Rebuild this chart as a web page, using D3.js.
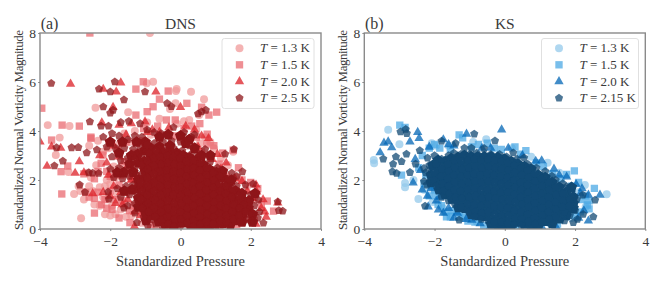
<!DOCTYPE html>
<html>
<head>
<meta charset="utf-8">
<script src="https://cdn.jsdelivr.net/npm/d3@7"></script>
<style>
  html, body { margin: 0; padding: 0; background: #fff; }
  svg { display: block; }
  text { font-family: "Liberation Serif", serif; fill: #3a3a3a; }
</style>
</head>
<body>
<div id="body"></div>
<script>
// values: [pressure, vorticity]
const dns13 = [[-3.78,4.24],[-3.16,4.2],[-3.44,3.73],[-2.42,4.95],[-1.49,4.77],[-.96,5.95],[-.78,6.01],[-.11,5.71],[-.13,5.63],[.3,5.6],[.67,5.3],[-.14,5.13],[.53,4.65],[-.87,8.0],[-2.83,.44],[-3.03,1.43],[-3.55,3.02],[-3.19,2.33],[-2.6,3.4],[-2.35,3.6],[-2.9,1.75],[-2.75,1.2],[-2.5,1.55],[-2.3,.95],[-2.2,1.3],[-2.15,.6],[-2.0,.55],[-1.95,.95],[-1.8,1.4],[-1.7,.8],[-1.55,.5],[-1.85,2.1],[-2.1,2.0],[-1.6,3.9],[-1.3,4.0],[-.6,4.5],[-.3,4.9],[.1,4.4],[.45,4.05],[.7,3.75],[.95,3.3],[1.15,2.9],[1.35,2.6],[1.5,3.15],[1.6,2.1],[1.9,1.75],[2.1,1.2],[1.7,.3],[1.2,.2],[-2.65,2.3],[-1.3,2.2],[-1.1,.25],[.55,3.5],[-.95,4.35],[-2.05,3.3],[-1.75,3.45],[-.7,.12],[.8,.1],
[-2.85,1.55],[-2.6,1.75],[-2.45,1.0],[-2.3,1.7],[-2.15,1.75],[-2.05,1.25],[-1.85,.6],[-1.6,1.05],[-1.4,.55],[-1.9,2.55],[-1.65,2.6],[-2.4,2.6],[-2.2,3.15],[-1.45,3.55],[-.85,3.85],[-.1,4.3],[.25,4.45],[.85,3.55],[-2.55,2.1],[-2.0,1.85]];
const dns15 = [[-3.37,4.24],[-2.88,4.2],[-3.67,3.63],[-2.55,3.75],[-1.06,6.01],[-1.27,5.71],[-.35,5.63],[-.6,5.3],[.18,5.13],[-.78,4.99],[-.95,4.79],[-1.27,4.65],[.6,4.97],[1.03,4.77],[.81,4.65],[.76,3.87],[.32,4.2],[-3.95,4.93],[-3.4,2.34],[-3.21,2.57],[-2.26,2.68],[-3.38,1.43],[-2.45,.65],[-1.75,.45],[-1.44,.26],[-2.55,3.7],[-2.21,3.02],[2.47,1.14],[2.65,.73],[1.5,3.22],[.75,3.47],[-2.58,8.0],[-2.7,1.5],[-2.45,1.25],[-2.15,1.2],[-2.0,1.55],[-1.95,.8],[-2.0,2.15],[-1.75,1.8],[-1.65,1.15],[-1.5,2.45],[-1.45,.75],[-1.6,2.75],[-1.3,3.1],[-1.1,3.6],[-.4,4.45],[.1,4.1],[.45,3.75],[.85,3.0],[1.1,2.65],[1.65,2.5],[2.0,1.9],[1.8,.5],[1.4,.28],[.9,.22],[-.85,.18],[.6,3.15],[-.15,3.8],[-2.75,2.25],[-2.1,2.35],[-1.8,3.2],[1.3,2.15],
[-2.6,1.3],[-2.35,1.5],[-2.25,1.0],[-2.1,.85],[-1.85,1.2],[-1.55,1.5],[-1.35,.95],[-1.7,2.2],[-1.4,2.05],[-2.45,2.05],[-2.35,2.35],[-1.55,3.55],[-1.05,4.1],[-.65,4.2],[-.15,4.45],[.55,4.3],[.95,3.4],[1.2,3.1],[1.75,2.0],[2.2,1.65],[2.3,1.0],[2.1,.35],[1.6,.18]];
const dns20 = [[-3.13,5.92],[-1.7,5.97],[-2.2,5.71],[-1.83,5.6],[-.7,5.6],[-1.92,4.97],[0,4.97],[-2.24,4.34],[-1.75,4.24],[-1.01,4.38],[-.33,4.14],[-3.67,3.36],[-3.41,3.3],[-3.8,2.57],[-2.88,2.75],[-3,2.28],[1.05,3.05],[2.17,1.52],[2.15,1.8],[2.77,1.07],[2.44,.49],[-1.31,.11],[-4,3.56],[-2.5,1.45],[-2.2,1.5],[-2.05,2.2],[-1.9,1.75],[-1.75,2.95],[-1.6,2.35],[-1.5,1.2],[-1.3,1.65],[-1.85,1.05],[-1.25,3.55],[-1.4,4.3],[-.6,3.95],[-.8,4.05],[.15,4.2],[.4,4.05],[.5,3.35],[.9,2.85],[1.3,2.7],[1.55,2.05],[1.9,1.55],[2.05,1.25],[2.3,.85],[2.0,.4],[1.5,.35],[.95,.15],[.3,.1],[-.4,.08],[-1.15,.55],[-2.3,3.0],[-2.75,2.3],[-1.05,2.7],[.8,3.7],
[-2.0,1.35],[-1.7,1.5],[-1.4,2.0],[-1.65,1.0],[-1.3,.7],[-2.1,2.7],[-1.9,3.4],[-1.55,3.85],[-.95,3.95],[.6,3.8],[1.15,2.45],[1.75,1.95],[2.35,1.2],[2.4,.7],[2.15,.2],[1.1,.12]];
const dns25 = [[-3.68,5.95],[-2.32,5.71],[-1.87,6.01],[-2.0,5.6],[-1.01,5.6],[-1.61,5.27],[-2.2,4.99],[-.38,5.13],[-.26,5.0],[-2.0,4.73],[-1.92,4.85],[-2.58,4.38],[-1.47,4.4],[-2.26,4.2],[-2.05,4.2],[.5,4.7],[.6,4.78],[.72,4.85],[-1.7,4.35],[-1.15,4.3],[-.95,4.05],[-.75,3.95],[-.55,3.9],[-.2,4.15],[.1,3.95],[.4,3.85],[.3,3.75],[-3.53,3.32],[-3.1,3.32],[-2.91,3.33],[-3.35,2.77],[-3.59,2.58],[-2.67,3.11],[-2.38,3.23],[-2.61,2.3],[-2.33,2.27],[-2.5,2.28],[-2.87,1.8],[-2.72,1.5],[-2.04,1.22],[-2.06,1.51],[-1.61,.86],[-1.3,.65],[-1.24,.26],[-.93,.12],[1.52,3.25],[1.76,2.34],[2.07,1.84],[2.22,1.18],[2.77,1.11],[2.91,.73],[2.8,.75],[2.36,.24],[1.27,3.06],[1.46,2.28],[1.6,2.15],[1.85,1.8],[2.0,1.4],[2.1,.95],[2.25,.7],[2.2,.45],[1.95,.6],[1.8,1.0],[1.65,1.35],[1.6,1.75],[1.35,2.05],
[-2.2,3.75],[-1.95,3.9],[-1.75,3.8],[-1.5,3.65],[-1.3,3.8],[-1.1,3.75],[-2.1,3.35],[-1.85,3.3],[-1.6,3.3],[-1.35,3.25],[-1.15,3.35],[-1.95,2.95],[-1.7,2.8],[-1.5,2.9],[-1.3,2.85],[-2.0,2.45],[-1.75,2.5],[-1.55,2.4],[-1.3,2.5],[-1.9,2.1],[-1.65,2.05],[-1.45,2.15],[-1.25,2.2],[-1.8,1.65],[-1.55,1.75],[-1.35,1.8],[-1.7,1.3],[-1.45,1.4],[-1.25,1.45],[-1.5,.95],[-1.3,1.05],
[-.95,3.45],[-.75,3.5],[-.5,3.55],[-.25,3.6],[0,3.55],[.25,3.4],[.5,3.1],[.7,3.25],[-.9,3.1],[-.7,3.2],[-.45,3.2],[-.2,3.3],[.05,3.2],[.3,3.05],[.85,2.75],[1.05,2.5],
[-1.1,2.95],[-1.12,2.6],[-1.1,2.25],[-1.14,1.9],[-1.1,1.55],[-1.12,1.2],[-1.08,.85],[-1.05,.5],
[-.95,2.8],[-.93,2.45],[-.95,2.1],[-.92,1.75],[-.95,1.4],[-.93,1.05],[-.9,.7],[-.85,.38],
[-.76,2.9],[-.75,2.6],[-.77,2.25],[-.74,1.9],[-.76,1.55],[-.73,1.2],[-.75,.85],[-.72,.5],[-.7,.2],
[-.58,2.95],[-.55,2.65],[-.57,2.35],[-.56,2.05],[-.58,1.75],[-.55,1.4],[-.57,1.05],[-.55,.7],[-.53,.35],[-.52,.1],
[-.38,3.0],[-.37,2.7],[-.4,2.4],[-.38,2.1],[-.36,1.8],[-.39,1.5],[-.37,1.15],[-.36,.85],[-.38,.5],[-.35,.2],
[-.2,2.95],[-.18,2.65],[-.2,2.35],[-.19,2.05],[-.17,1.7],[-.2,1.4],[-.18,1.05],[-.19,.75],[-.17,.4],[-.18,.1],
[-.02,2.9],[0,2.6],[-.01,2.3],[.01,2.0],[-.02,1.7],[0,1.35],[.02,1.05],[-.01,.7],[.01,.4],[0,.12],
[.17,2.75],[.19,2.45],[.16,2.15],[.18,1.85],[.2,1.5],[.17,1.2],[.19,.85],[.18,.55],[.2,.25],
[.37,2.8],[.36,2.5],[.38,2.2],[.35,1.9],[.37,1.6],[.39,1.25],[.36,.95],[.38,.65],[.37,.35],[.36,.1],
[.56,2.7],[.55,2.4],[.57,2.1],[.54,1.75],[.56,1.45],[.55,1.1],[.57,.8],[.54,.5],[.56,.2],
[.75,2.5],[.74,2.2],[.76,1.9],[.73,1.6],[.75,1.25],[.74,.95],[.76,.6],[.73,.3],
[.93,2.3],[.95,2.0],[.92,1.7],[.94,1.4],[.96,1.1],[.93,.8],[.95,.5],[.92,.22],
[1.12,2.15],[1.1,1.85],[1.13,1.55],[1.11,1.25],[1.14,.95],[1.1,.65],[1.12,.35],
[1.3,1.75],[1.28,1.45],[1.32,1.15],[1.29,.85],[1.31,.55],[1.3,.28],
[1.48,1.65],[1.46,1.3],[1.5,1.0],[1.47,.7],[1.5,.42],[1.68,.85],[1.66,.55],[1.85,.72],[1.9,.38]];
// second pass through the solid middle of the DNS cloud
const dnsCore = [[-1.02,3.2],[-1.03,2.75],[-1.02,2.42],[-1.03,2.08],[-1.02,1.72],[-1.03,1.38],[-1.01,1.02],[-1.0,.68],[-.98,.35],
[-.85,3.0],[-.85,2.63],[-.86,2.28],[-.84,1.92],[-.85,1.58],[-.83,1.22],[-.83,.88],[-.81,.55],
[-.67,3.05],[-.66,2.75],[-.67,2.42],[-.65,2.08],[-.67,1.72],[-.64,1.38],[-.66,1.03],[-.64,.68],[-.62,.32],
[-.47,3.1],[-.46,2.82],[-.48,2.52],[-.47,2.2],[-.47,1.9],[-.47,1.58],[-.47,1.22],[-.46,.88],[-.46,.52],[-.44,.2],
[-.29,3.15],[-.28,2.82],[-.3,2.52],[-.28,2.22],[-.27,1.92],[-.29,1.6],[-.28,1.3],[-.28,.95],[-.28,.62],[-.26,.3],
[-.11,3.1],[-.09,2.78],[-.1,2.48],[-.09,2.2],[-.09,1.88],[-.1,1.55],[-.08,1.22],[-.1,.9],[-.08,.55],[-.09,.25],
[.08,3.0],[.09,2.7],[.08,2.42],[.1,2.12],[.09,1.82],[.09,1.5],[.1,1.18],[.09,.88],[.1,.55],[.09,.25],
[.27,2.9],[.27,2.62],[.27,2.32],[.26,2.02],[.28,1.72],[.28,1.4],[.27,1.1],[.28,.78],[.28,.48],[.28,.18],
[.46,2.82],[.45,2.52],[.47,2.22],[.45,1.9],[.46,1.6],[.47,1.28],[.46,.98],[.46,.68],[.46,.38],[.46,.12],
[.65,2.62],[.64,2.32],[.66,2.02],[.64,1.72],[.65,1.4],[.65,1.1],[.66,.78],[.64,.48],[.65,.18],
[.84,2.42],[.85,2.12],[.84,1.82],[.83,1.52],[.85,1.22],[.84,.92],[.85,.62],[.82,.35],[.83,.12],
[1.02,2.3],[1.02,2.0],[1.02,1.7],[1.02,1.38],[1.05,1.08],[1.02,.78],[1.03,.5],[1.0,.2],
[1.2,2.1],[1.2,1.7],[1.22,1.4],[1.2,1.1],[1.22,.8],[1.2,.5],[1.21,.22],
[1.38,1.9],[1.38,1.58],[1.41,1.25],[1.38,.98],[1.4,.7],[1.4,.42],[1.42,.18],
[1.57,1.55],[1.56,1.18],[1.58,.95],[1.58,.6],[1.58,.35],[1.75,1.45],[1.75,1.2],[1.77,.85],[1.76,.55],[1.75,.28],
[1.95,1.15],[1.93,.85],[2.05,.6],[2.05,.28],[2.12,1.45],[1.2,2.35],[1.45,2.0],
[-1.22,3.05],[-1.4,3.0],[-1.45,2.65],[-1.2,2.7],[-1.35,2.32],[-1.2,2.0],[-1.22,1.65],[-1.2,1.25],[-1.2,.9],[-1.38,1.6],[-1.6,1.55],[-1.62,2.3],[-1.8,2.3],[-.3,3.4],[.15,3.5],[.4,3.3],[.6,3.0],[.85,3.0],[-.6,3.35],[-.85,3.3],[-1.0,3.55],[-.6,3.75],[-.35,3.85],[.0,3.8],[.25,3.65],[-1.25,3.55],[-1.65,3.55],[-1.75,3.1],[-2.0,3.55],[-.2,.05]];

const ks13 = [[-3.32,4.05],[-3.73,2.82],[-3.72,2.68],[-3.0,3.46],[-2.84,1.88],[-2.84,1.7],[-2.46,1.22],[-.53,3.66],[2.9,1.42],[2.28,1.8],[1.22,2.7],[-2.08,3.5],[-1.95,3.4],[-2.6,2.0],[-2.3,1.6],[-2.05,1.1],[-1.75,.85],[-1.55,.55],[-1.2,.45],[-.8,.3],[-.2,.12],[.55,.1],[1.3,.2],[1.9,.45],[2.3,.9],[2.1,1.5],[1.55,2.3],[.75,2.95],[.2,3.3],[-.9,3.55],[-1.6,3.4]];
const ks15 = [[-2.99,4.24],[-2.84,4.15],[-1.3,3.84],[-1.2,3.72],[-2.94,2.2],[-1.66,.5],[1.98,2.37],[1.76,2.23],[2.55,1.66],[2.35,.98],[2.4,.82],[.29,3.35],[.6,3.2],[-2.15,3.3],[-2.0,3.45],[-1.55,3.25],[-.75,3.45],[-.3,3.3],[-2.45,2.5],[-2.25,2.2],[-2.15,1.35],[-2.0,1.6],[-1.9,1.0],[-1.7,.7],[-1.5,.75],[-1.3,.5],[-1.05,.32],[-.6,.15],[-.3,.1],[.3,.08],[.95,.12],[1.5,.2],[2.0,.55],[2.2,1.2],[1.9,1.75],[1.35,2.25],[.9,2.7],[-.1,3.25],
[-2.3,1.85],[-2.1,1.75],[-1.95,1.35],[-1.8,.95],[-1.55,.5],[-1.35,.75],[-1.15,.55],[-.85,.28],[-2.35,3.0],[-1.85,3.3],[-.95,3.35],[-.5,3.5],[.45,3.05],[1.1,2.55],[1.6,2.05],[2.1,1.9],[2.3,1.35],[2.4,1.15],[2.15,.7]];
const ks20 = [[-3.44,3.51],[-3.32,3.56],[-3.55,3.12],[-3.22,3.32],[-2.48,3.95],[-2.44,3.7],[-2.7,3.56],[-2.61,1.89],[-.09,4.05],[-1.09,3.88],[-2.18,.91],[-1.89,.78],[-.94,.37],[1.05,2.79],[.88,2.77],[1.76,2.13],[2.03,1.82],[2.71,1.39],[2.38,1.39],[2.38,.33],[-1.75,3.65],[-1.6,3.45],[-2.15,3.35],[-2.35,1.6],[-2.2,1.35],[-1.85,1.3],[-1.75,.65],[-1.35,.65],[-.7,.22],[-.4,.12],[.1,.08],[.75,.1],[1.05,.1],[1.45,.12],[1.95,.9],[2.15,1.45],[-.4,3.3],[.1,3.3],[.5,3.0],[1.4,2.45],
[-2.4,2.4],[-2.1,1.65],[-1.95,1.15],[-1.6,.85],[-1.45,.45],[-1.1,.4],[-2.55,2.85],[-1.45,3.4],[-.65,3.3],[1.55,2.2],[2.2,1.65],[2.25,.75],[2.1,.45]];
const ks215 = [[-2.97,3.97],[-2.82,4.07],[-2.79,3.9],[-3.46,2.86],[-3.18,2.65],[-3.2,2.34],[-3.08,2.27],[-3.1,2.95],[-2.94,2.75],[-2.8,3.06],[-2.7,2.31],[-2.54,2.65],[-2.42,3.2],[-2.27,.94],[-2.3,1.95],[-2.22,1.8],[-2.3,2.48],[-2.25,2.3],[-2.1,2.44],[-1.8,3.59],[-1.4,3.5],[-.87,3.88],[-.28,3.6],[-.59,3.29],[-1.3,.37],[-1.15,3.3],[-.95,3.3],[.55,2.91],[.24,3.11],[1.34,2.16],[1.76,1.73],[2.22,1.39],[2.57,1.18],[2.23,.6],[2.52,.5],[2.07,.4],[1.95,.26],[1.7,.34],[-.1,.1],
[-2.2,2.9],[-2.0,3.0],[-2.15,2.6],[-1.95,2.65],[-1.8,2.85],[-1.6,3.0],[-1.45,3.1],[-1.25,3.05],[-1.0,3.05],[-.8,3.1],[-.6,3.0],[-.4,3.05],[-.15,3.05],[.05,2.95],[.35,2.85],[.65,2.65],[.9,2.5],[1.15,2.35],[1.45,2.0],[1.65,1.85],[1.9,1.5],[2.05,1.2],[2.0,.75],[1.85,.55],[1.7,.7],
[-2.0,2.3],[-2.02,2.0],[-1.95,1.75],[-1.8,2.45],[-1.82,2.15],[-1.78,1.85],[-1.75,1.55],[-1.8,1.3],[-1.62,2.65],[-1.6,2.35],[-1.63,2.05],[-1.6,1.75],[-1.58,1.45],[-1.6,1.15],[-1.43,2.8],[-1.42,2.5],[-1.45,2.2],[-1.42,1.9],[-1.44,1.6],[-1.4,1.3],[-1.42,1.0],[-1.25,2.75],[-1.22,2.45],[-1.25,2.15],[-1.23,1.85],[-1.26,1.55],[-1.22,1.25],[-1.24,.9],
[-1.05,2.8],[-1.03,2.5],[-1.06,2.2],[-1.04,1.9],[-1.05,1.6],[-1.02,1.3],[-1.05,1.0],[-1.03,.7],[-.87,2.85],[-.85,2.55],[-.88,2.25],[-.85,1.95],[-.87,1.65],[-.84,1.35],[-.87,1.0],[-.85,.7],[-.86,.5],
[-.68,2.8],[-.66,2.5],[-.69,2.2],[-.67,1.9],[-.68,1.6],[-.65,1.25],[-.68,.95],[-.66,.65],[-.67,.4],[-.48,2.85],[-.47,2.55],[-.5,2.25],[-.47,1.95],[-.49,1.6],[-.46,1.3],[-.49,1.0],[-.47,.7],[-.48,.35],
[-.3,2.8],[-.28,2.5],[-.31,2.2],[-.29,1.9],[-.3,1.55],[-.27,1.25],[-.3,.95],[-.28,.6],[-.3,.3],[-.1,2.75],[-.09,2.45],[-.12,2.15],[-.1,1.85],[-.11,1.5],[-.08,1.2],[-.11,.9],[-.09,.55],[-.1,.28],
[.08,2.7],[.1,2.4],[.07,2.1],[.09,1.8],[.08,1.5],[.11,1.15],[.08,.85],[.1,.55],[.08,.22],[.27,2.6],[.28,2.3],[.26,2.0],[.29,1.7],[.27,1.4],[.3,1.1],[.27,.75],[.29,.45],[.27,.18],
[.46,2.5],[.48,2.2],[.45,1.9],[.47,1.6],[.46,1.3],[.49,1.0],[.46,.7],[.48,.4],[.47,.15],[.65,2.4],[.67,2.1],[.64,1.8],[.66,1.5],[.65,1.2],[.68,.9],[.65,.6],[.67,.3],
[.85,2.25],[.86,1.95],[.84,1.65],[.86,1.35],[.85,1.05],[.87,.75],[.85,.45],[.86,.2],[1.05,2.05],[1.06,1.75],[1.04,1.45],[1.06,1.15],[1.05,.85],[1.07,.55],[1.05,.28],
[1.25,1.9],[1.26,1.6],[1.24,1.3],[1.26,1.0],[1.25,.7],[1.27,.4],[1.45,1.7],[1.46,1.4],[1.44,1.1],[1.46,.8],[1.45,.5],[1.65,1.45],[1.66,1.15],[1.64,.9],[1.85,1.2],[1.84,.95]];
// second pass through the solid middle of the KS cloud
const ksCore = [[-1.9,2.8],[-1.9,2.45],[-1.9,2.15],[-1.88,1.88],[-1.87,1.6],[-1.7,2.75],[-1.7,2.5],[-1.72,2.2],[-1.7,1.95],[-1.68,1.65],[-1.7,1.42],[-1.52,2.88],[-1.5,2.62],[-1.52,2.32],[-1.52,2.05],[-1.5,1.75],[-1.5,1.48],[-1.5,1.22],[-1.33,2.92],[-1.32,2.62],[-1.33,2.32],[-1.33,2.02],[-1.33,1.72],[-1.32,1.42],[-1.33,1.15],[-1.32,.88],
[-1.15,3.0],[-1.13,2.65],[-1.15,2.35],[-1.14,2.02],[-1.15,1.72],[-1.13,1.42],[-1.14,1.12],[-1.13,.85],[-.96,2.95],[-.94,2.68],[-.96,2.38],[-.95,2.1],[-.96,1.78],[-.93,1.5],[-.96,1.18],[-.94,.85],[-.95,.6],
[-.77,2.95],[-.75,2.65],[-.78,2.35],[-.76,2.05],[-.77,1.75],[-.74,1.42],[-.77,1.1],[-.75,.8],[-.76,.55],[-.58,2.95],[-.56,2.68],[-.59,2.38],[-.57,2.1],[-.58,1.78],[-.55,1.45],[-.58,1.15],[-.56,.85],[-.57,.52],
[-.39,2.95],[-.37,2.65],[-.4,2.35],[-.38,2.05],[-.39,1.72],[-.36,1.4],[-.39,1.12],[-.37,.78],[-.39,.45],[-.39,.2],[-.2,2.92],[-.18,2.6],[-.21,2.3],[-.19,2.0],[-.2,1.68],[-.17,1.35],[-.2,1.05],[-.18,.72],[-.2,.42],[-.2,.18],
[-.01,2.85],[.01,2.58],[-.02,2.28],[0,1.98],[-.01,1.65],[.02,1.32],[-.01,1.0],[.01,.7],[-.01,.38],[0,.15],[.18,2.75],[.19,2.45],[.17,2.15],[.19,1.85],[.18,1.55],[.2,1.25],[.18,.92],[.2,.62],[.18,.32],[.18,.1],
[.37,2.65],[.38,2.35],[.36,2.05],[.38,1.75],[.37,1.45],[.39,1.15],[.37,.85],[.38,.55],[.37,.28],[.56,2.55],[.57,2.25],[.55,1.95],[.57,1.65],[.56,1.35],[.58,1.05],[.56,.75],[.57,.48],[.56,.2],
[.75,2.45],[.76,2.1],[.74,1.8],[.76,1.5],[.75,1.2],[.77,.9],[.75,.6],[.76,.32],[.75,.12],[.95,2.2],[.96,1.9],[.94,1.6],[.96,1.3],[.95,1.0],[.97,.7],[.95,.42],[.96,.15],
[1.15,2.1],[1.15,1.8],[1.14,1.5],[1.16,1.2],[1.15,.9],[1.17,.62],[1.15,.32],[1.35,1.9],[1.35,1.6],[1.34,1.3],[1.36,1.05],[1.35,.75],[1.37,.48],[1.35,.22],
[1.55,1.7],[1.55,1.45],[1.54,1.2],[1.56,.95],[1.55,.68],[1.56,.42],[1.75,1.5],[1.75,1.25],[1.74,1.05],[1.75,.8],[1.75,.55],[1.95,1.3],[1.95,1.05],[1.95,.85],[1.9,1.7],[-2.05,2.6],[-2.1,2.2],[-2.1,1.9]];

const dnsSeries = [dns13, dns15, dns20, dns25];
const ksSeries = [ks13, ks15, ks20, ks215];
const dnsTemps = ["1.3", "1.5", "2.0", "2.5"];
const ksTemps = ["1.3", "1.5", "2.0", "2.15"];
const dnsColors = ["#f09a9a", "#e96a70", "#dc1f26", "#8e1519"];
const ksColors = ["#94c9eb", "#4ba8e4", "#0165b5", "#124a74"];
const xTicks = [-4, -2, 0, 2, 4];
const yTicks = [0, 2, 4, 6, 8];

const pentagon = {
  draw(ctx, size) {
    const r = Math.sqrt(size / 2.378);
    for (let k = 0; k < 5; k++) {
      const a = -Math.PI / 2 + k * 2 * Math.PI / 5;
      if (k === 0) ctx.moveTo(r * Math.cos(a), r * Math.sin(a));
      else ctx.lineTo(r * Math.cos(a), r * Math.sin(a));
    }
    ctx.closePath();
  }
};
const markers = [
  d3.symbol().type(d3.symbolCircle).size(50),
  d3.symbol().type(d3.symbolSquare).size(54),
  d3.symbol().type(d3.symbolTriangle).size(38),
  d3.symbol().type(pentagon).size(44)
];

const svg = d3.select("#body").append("svg")
  .attr("width", 664)
  .attr("height", 285);

function panel(o) {
  const x = d3.scaleLinear().domain([-4, 4]).range([o.left, o.left + 281]);
  const y = d3.scaleLinear().domain([0, 8]).range([229, 33]);
  const g = svg.append("g");

  g.append("clipPath").attr("id", o.id)
    .append("rect")
    .attr("x", o.left).attr("y", 33)
    .attr("width", 281).attr("height", 196);

  o.series.forEach((pts, s) => {
    const layer = g.append("g").attr("clip-path", `url(#${o.id})`);
    // overlaps in the middle of the cloud saturate to the plain colour
    if (s === 3) {
      layer.selectAll("path.core")
        .data(o.core)
        .join("path")
        .attr("class", "core")
        .attr("d", markers[s])
        .attr("transform", d => `translate(${x(d[0])},${y(d[1])})`)
        .attr("fill", o.colors[s])
        .attr("stroke", o.colors[s])
        .attr("stroke-width", 2.5);
    }
    layer.selectAll("path.mark")
      .data(pts)
      .join("path")
      .attr("class", "mark")
      .attr("d", markers[s])
      .attr("transform", d => `translate(${x(d[0])},${y(d[1])})`)
      .attr("fill", o.colors[s])
      .attr("fill-opacity", 0.75);
  });

  g.append("rect")
    .attr("x", o.left).attr("y", 33)
    .attr("width", 281).attr("height", 196)
    .attr("fill", "none")
    .attr("stroke", "#8a8a8a")
    .attr("stroke-width", 1.4);

  const xAxis = g.append("g")
    .attr("transform", "translate(0,229)")
    .call(d3.axisBottom(x).tickValues(xTicks).tickFormat(d3.format("d")).tickSize(2).tickPadding(5));
  const yAxis = g.append("g")
    .attr("transform", `translate(${o.left},0)`)
    .call(d3.axisLeft(y).tickValues(yTicks).tickFormat(d3.format("d")).tickSize(2).tickPadding(2));
  [xAxis, yAxis].forEach(a => {
    a.select(".domain").remove();
    a.selectAll("line").attr("stroke", "#777").attr("stroke-width", 0.8);
    a.selectAll("text")
      .style("font-family", '"Liberation Serif", serif')
      .style("font-size", "13.5px")
      .style("fill", "#3a3a3a");
  });

  g.append("text")
    .attr("x", o.left + 140.5).attr("y", 29)
    .attr("text-anchor", "middle")
    .style("font-size", "15.5px")
    .text(o.title);
  g.append("text")
    .attr("x", o.left + 0.7).attr("y", 29)
    .style("font-size", "16px")
    .text(o.tag);

  g.append("text")
    .attr("x", o.left + 140.5).attr("y", 266)
    .attr("text-anchor", "middle")
    .attr("textLength", 129)
    .style("font-size", "14.5px")
    .text("Standardized Pressure");
  g.append("text")
    .attr("transform", `translate(${o.left - 17},130) rotate(-90)`)
    .attr("text-anchor", "middle")
    .attr("textLength", 200)
    .style("font-size", "13px")
    .text("Standardized Normal Vorticity Magnitude");

  const lg = g.append("g");
  lg.append("rect")
    .attr("x", o.legendX).attr("y", 38.5)
    .attr("width", o.legendW).attr("height", 70)
    .attr("rx", 2.5)
    .attr("fill", "#fff").attr("fill-opacity", 0.85)
    .attr("stroke", "#dcdcdc").attr("stroke-width", 0.9);
  const rows = [48.3, 64.8, 81.5, 98];
  o.temps.forEach((t, s) => {
    lg.append("path")
      .attr("d", markers[s])
      .attr("transform", `translate(${o.legendX + 17.5},${rows[s]})`)
      .attr("fill", o.colors[s])
      .attr("fill-opacity", 0.75);
    const label = lg.append("text")
      .attr("x", o.legendX + 38).attr("y", rows[s] + 4)
      .style("font-size", "13px");
    label.append("tspan").style("font-style", "italic").text("T");
    label.append("tspan").text(` = ${t} K`);
  });
}

panel({ id: "clip-a", left: 40, title: "DNS", tag: "(a)", series: dnsSeries, core: dnsCore, colors: dnsColors, temps: dnsTemps, legendX: 222, legendW: 92 });
panel({ id: "clip-b", left: 364.3, title: "KS", tag: "(b)", series: ksSeries, core: ksCore, colors: ksColors, temps: ksTemps, legendX: 541.5, legendW: 97 });
</script>
</body>
</html>
